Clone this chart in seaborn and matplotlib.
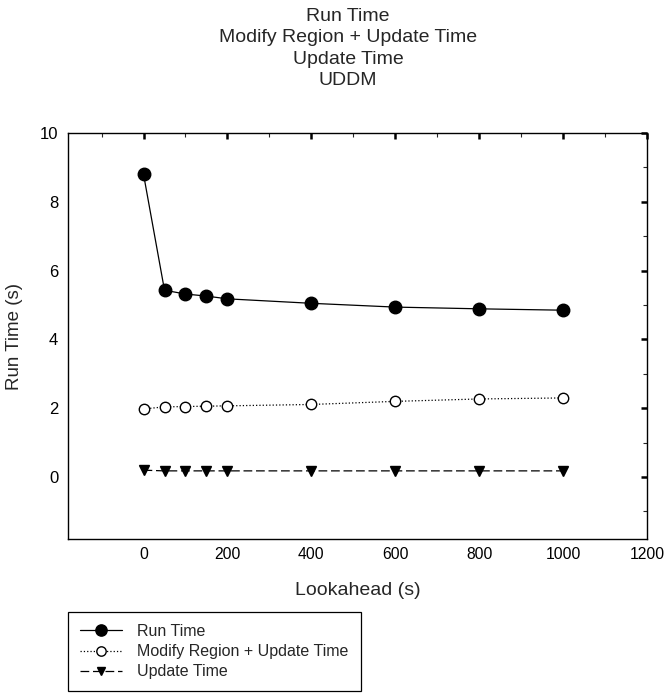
import numpy as np
import pandas as pd
import matplotlib
matplotlib.use("Agg")
import matplotlib.pyplot as plt
import seaborn as sns
from matplotlib.ticker import MultipleLocator

lookahead = [0, 50, 100, 150, 200, 400, 600, 800, 1000]
run_time = [8.8, 5.43, 5.32, 5.26, 5.18, 5.05, 4.94, 4.89, 4.85]
modify_update = [1.98, 2.04, 2.05, 2.06, 2.07, 2.11, 2.2, 2.27, 2.3]
update_time = [0.2, 0.18, 0.18, 0.18, 0.18, 0.18, 0.18, 0.18, 0.18]

series_names = ["Run Time", "Modify Region + Update Time", "Update Time"]
title_lines = ["Run Time", "Modify Region + Update Time", "Update Time", "UDDM"]

sns.set_theme(style="white")
plt.rcParams["font.family"] = ["Liberation Sans", "DejaVu Sans"]

fig = plt.figure(figsize=(6.65, 6.94), dpi=100)
ax = fig.add_axes([68/665, 1-539/694, (647-68)/665, (539-133)/694])

styles = [
    dict(marker="o", linestyle="-", markerfacecolor="black", markersize=9),
    dict(marker="o", linestyle=":", markerfacecolor="white", markersize=7.5),
    dict(marker="v", linestyle=(0, (7, 3)), markerfacecolor="black", markersize=7),
]
for name, vals, st in zip(series_names, [run_time, modify_update, update_time], styles):
    df = pd.DataFrame({"x": lookahead, "y": vals})
    sns.lineplot(data=df, x="x", y="y", ax=ax, color="black", linewidth=0.9,
                 marker=st["marker"], linestyle=st["linestyle"],
                 markerfacecolor=st["markerfacecolor"], markeredgecolor="black",
                 markeredgewidth=1.0, markersize=st["markersize"], label=name)

ax.set_xlim(-180, 1200)
ax.set_ylim(-1.8, 10)
ax.xaxis.set_major_locator(MultipleLocator(200))
ax.xaxis.set_minor_locator(MultipleLocator(100))
ax.yaxis.set_major_locator(MultipleLocator(2))
ax.yaxis.set_minor_locator(MultipleLocator(1))
ax.tick_params(which="major", direction="in", length=4, width=1.8, top=True, right=True,
               labelsize=12, colors="black")
ax.tick_params(axis="x", which="major", pad=6, labelsize=11.3)
ax.tick_params(axis="y", which="major", pad=7)
ax.tick_params(which="minor", direction="in", length=3, width=0.8, top=True, right=True)
for s in ax.spines.values():
    s.set_visible(True)
    s.set_color("black")
    s.set_linewidth(1.0)

ax.set_xlabel("Lookahead (s)", fontsize=14, labelpad=14)
ax.set_ylabel("Run Time (s)", fontsize=13.5, labelpad=12)

fig.text(348/665, 1-8/694, "\n".join(title_lines), ha="center", va="top",
         fontsize=14, linespacing=1.33)

handles, labels = ax.get_legend_handles_labels()
ax.legend(handles, labels, loc="upper left", bbox_to_anchor=(68/665, 1-612/694),
          bbox_transform=fig.transFigure, borderaxespad=0, frameon=True,
          fancybox=False, edgecolor="black", framealpha=1, fontsize=11.5,
          handlelength=2.65, handletextpad=0.95, labelspacing=0.32,
          borderpad=0.75, markerscale=0.9)
ax.get_legend().get_frame().set_linewidth(0.9)

fig.savefig("out.png", dpi=100)
